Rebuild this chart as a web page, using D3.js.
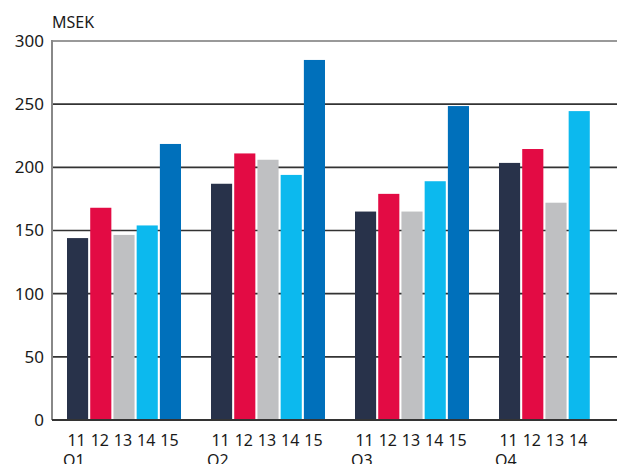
<!DOCTYPE html>
<html><head><meta charset="utf-8">
<script src="https://cdn.jsdelivr.net/npm/d3@7"></script>
<style>body{margin:0;background:#fff}svg{display:block}text{font-family:"Noto Sans",sans-serif;fill:#1a1a1a}</style>
</head><body><svg id="c" width="617" height="464"></svg>
<script>
const quarters = ["Q1","Q2","Q3","Q4"];
const years = ["11","12","13","14","15"];
const colors = ["#28324a","#e30b44","#bfc0c2","#0cb9ee","#0070bb"];
const values = [
  [144,168,146.5,154,218.5],
  [187,211,206,194,285],
  [165,179,165,189,248.5],
  [203.5,214.5,172,244.5,null]
];
const yTicks = [0,50,100,150,200,250,300];
const unit = "MSEK";

(function(){
const svg = d3.select("#c");
const mL = 52, mR = 628, mT = 41, mB = 420;
const y = d3.scaleLinear().domain([0,300]).range([mB, mT]);
const x0 = d3.scaleBand().domain(quarters).range([mL, mR]);
const x1 = d3.scaleBand().domain(years).range([15, 129]).paddingInner(0.09);

svg.append("g").selectAll("line").data(yTicks.filter(d=>d>0)).join("line")
  .attr("x1", mL).attr("x2", 617).attr("y1", d=>y(d)).attr("y2", d=>y(d))
  .attr("stroke", d=>d===300?"#777":"#333").attr("stroke-width", 1.6);

const g = svg.append("g").selectAll("g").data(quarters).join("g")
  .attr("transform", q=>`translate(${x0(q)},0)`);
g.selectAll("rect").data((q,i)=>years.map((yr,j)=>({yr, v: values[i][j], c: colors[j]})).filter(d=>d.v!=null))
  .join("rect")
  .attr("x", d=>x1(d.yr)).attr("width", x1.bandwidth())
  .attr("y", d=>y(d.v)).attr("height", d=>mB - y(d.v))
  .attr("fill", d=>d.c);

g.selectAll("text.yr").data((q,i)=>years.filter((yr,j)=>values[i][j]!=null)).join("text")
  .attr("class","yr")
  .attr("x", d=>x1(d)+x1.bandwidth()/2 - 1).attr("y", 446)
  .attr("text-anchor","middle").attr("font-size", 16).text(d=>d);
g.append("text").attr("x", 11).attr("y", 466).attr("font-size", 16).text(q=>q);

svg.append("line").attr("x1", mL).attr("x2", mL).attr("y1", mT-1).attr("y2", mB)
  .attr("stroke", "#888").attr("stroke-width", 2);
svg.append("line").attr("x1", mL).attr("x2", 617).attr("y1", mB).attr("y2", mB)
  .attr("stroke", "#333").attr("stroke-width", 2);

svg.append("g").selectAll("text").data(yTicks).join("text")
  .attr("x", 44).attr("y", d=>y(d)).attr("dy", "0.35em")
  .attr("text-anchor","end").attr("font-size", 17).text(d=>d);

svg.append("text").attr("x", 52).attr("y", 28).attr("font-size", 16).text(unit);
})();
</script></body></html>
